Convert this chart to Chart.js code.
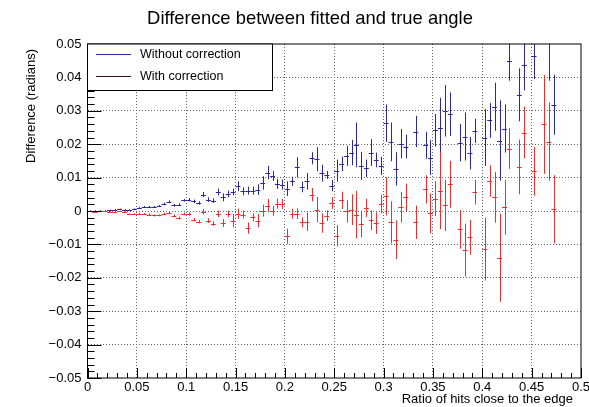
<!DOCTYPE html>
<html>
<head>
<meta charset="utf-8">
<script src="https://cdn.jsdelivr.net/npm/chart.js@4.4.0/dist/chart.umd.min.js"></script>
<style>
  html, body { margin: 0; padding: 0; background: #fff; }
  canvas { display: block; }
</style>
</head>
<body>
<canvas id="angleChart" width="589" height="407"></canvas>
<script>
// bin centres, bin width 0.005
const binCenters = [
  0.0025, 0.0075, 0.0125, 0.0175, 0.0225, 0.0275, 0.0325, 0.0375, 0.0425, 0.0475,
  0.0525, 0.0575, 0.0625, 0.0675, 0.0725, 0.0775, 0.0825, 0.0875, 0.0925, 0.0975,
  0.1025, 0.1075, 0.1125, 0.1175, 0.1225, 0.1275, 0.1325, 0.1375, 0.1425, 0.1475,
  0.1525, 0.1575, 0.1625, 0.1675, 0.1725, 0.1775, 0.1825, 0.1875, 0.1925, 0.1975,
  0.2025, 0.2075, 0.2125, 0.2175, 0.2225, 0.2275, 0.2325, 0.2375, 0.2425, 0.2475,
  0.2525, 0.2575, 0.2625, 0.2675, 0.2725, 0.2775, 0.2825, 0.2875, 0.2925, 0.2975,
  0.3025, 0.3075, 0.3125, 0.3175, 0.3225, 0.3275, 0.3325, 0.3375, 0.3425, 0.3475,
  0.3525, 0.3575, 0.3625, 0.3675, 0.3725, 0.3775, 0.3825, 0.3875, 0.3925, 0.3975,
  0.4025, 0.4075, 0.4125, 0.4175, 0.4225, 0.4275, 0.4325, 0.4375, 0.4425, 0.4475,
  0.4525, 0.4575, 0.4625, 0.4675, 0.4725
];
const binHalfWidth = 0.0025;

const withoutCorrection = [
  0.0000, 0.0000, 0.0001, 0.0001, 0.0002, 0.0004, 0.0005, 0.0004, 0.0003, 0.0006,
  0.0009, 0.0012, 0.0012, 0.0012, 0.0015, 0.0021, 0.0028, 0.0017, 0.0019, 0.0032,
  0.0034, 0.0029, 0.0024, 0.0049, 0.0034, 0.0031, 0.0057, 0.0041, 0.0051, 0.0057,
  0.0074, 0.0059, 0.0061, 0.0061, 0.0064, 0.0084, 0.0115, 0.0105, 0.0081, 0.0079,
  0.0067, 0.0089, 0.0131, 0.0072, 0.0089, 0.0158, 0.0155, 0.0113, 0.0108, 0.0076,
  0.0121, 0.0141, 0.0165, 0.0175, 0.0198, 0.0135, 0.0128, 0.0175, 0.0153, 0.0135,
  0.0263, 0.0207, 0.0126, 0.0202, 0.0193, null, 0.0238, null, 0.0197, 0.0160,
  0.0242, 0.0249, 0.0300, 0.0290, null, 0.0205, 0.0223, 0.0173, 0.0240, null,
  0.0220, 0.0271, 0.0312, 0.0211, 0.0247, 0.0450, null, 0.0348, 0.0438, null,
  0.0465, null, null, 0.0520, 0.0318
];
const withoutCorrectionErr = [
  0.0002, 0.0002, 0.0002, 0.0002, 0.0002, 0.0002, 0.0002, 0.0002, 0.0002, 0.0002,
  0.0003, 0.0003, 0.0003, 0.0003, 0.0003, 0.0004, 0.0004, 0.0004, 0.0004, 0.0004,
  0.0005, 0.0005, 0.0005, 0.0008, 0.0007, 0.0007, 0.0010, 0.0012, 0.0010, 0.0010,
  0.0015, 0.0012, 0.0012, 0.0012, 0.0016, 0.0020, 0.0020, 0.0015, 0.0015, 0.0015,
  0.0022, 0.0014, 0.0030, 0.0016, 0.0025, 0.0018, 0.0036, 0.0025, 0.0012, 0.0017,
  0.0033, 0.0022, 0.0030, 0.0038, 0.0067, 0.0042, 0.0026, 0.0040, 0.0022, 0.0027,
  0.0056, 0.0058, 0.0050, 0.0044, 0.0036, null, 0.0047, null, 0.0040, 0.0052,
  0.0049, 0.0090, 0.0077, 0.0065, null, 0.0056, 0.0072, 0.0049, 0.0036, null,
  0.0085, 0.0052, 0.0072, 0.0120, 0.0072, 0.0060, null, 0.0079, 0.0077, null,
  0.0070, null, null, 0.0130, 0.0090
];

const withCorrection = [
  -0.0001, -0.0002, 0.0000, -0.0001, -0.0003, -0.0003, -0.0001, -0.0003, -0.0009, -0.0009,
  -0.0009, -0.0009, -0.0011, -0.0013, -0.0013, -0.0009, -0.0005, -0.0014, -0.0021, -0.0009,
  -0.0009, -0.0026, -0.0032, -0.0002, -0.0029, -0.0038, -0.0008, -0.0036, -0.0009, -0.0029,
  -0.0008, -0.0011, -0.0051, -0.0019, -0.0029, 0.0001, 0.0016, 0.0001, 0.0022, 0.0021,
  -0.0076, -0.0008, -0.0008, -0.0034, -0.0032, 0.0049, 0.0004, -0.0036, -0.0014, 0.0024,
  -0.0074, 0.0032, -0.0001, 0.0004, -0.0011, -0.0039, 0.0009, -0.0028, -0.0036, 0.0021,
  0.0044, -0.0034, -0.0086, 0.0011, 0.0041, null, -0.0034, null, 0.0065, -0.0007,
  0.0037, 0.0061, 0.0017, 0.0080, null, -0.0055, -0.0117, -0.0079, 0.0056, null,
  -0.0114, 0.0090, 0.0041, -0.0140, 0.0011, 0.0187, null, 0.0132, 0.0235, null,
  0.0119, null, 0.0259, 0.0208, 0.0005
];
const withCorrectionErr = [
  0.0002, 0.0002, 0.0002, 0.0002, 0.0002, 0.0002, 0.0002, 0.0002, 0.0002, 0.0002,
  0.0003, 0.0003, 0.0003, 0.0003, 0.0003, 0.0004, 0.0004, 0.0004, 0.0004, 0.0004,
  0.0005, 0.0005, 0.0005, 0.0008, 0.0007, 0.0007, 0.0010, 0.0012, 0.0010, 0.0020,
  0.0015, 0.0012, 0.0017, 0.0012, 0.0020, 0.0018, 0.0020, 0.0015, 0.0015, 0.0015,
  0.0023, 0.0015, 0.0016, 0.0015, 0.0028, 0.0020, 0.0038, 0.0029, 0.0016, 0.0018,
  0.0032, 0.0026, 0.0034, 0.0046, 0.0071, 0.0040, 0.0027, 0.0030, 0.0032, 0.0028,
  0.0057, 0.0063, 0.0058, 0.0046, 0.0041, null, 0.0050, null, 0.0042, 0.0060,
  0.0052, 0.0115, 0.0077, 0.0070, null, 0.0058, 0.0079, 0.0052, 0.0037, null,
  0.0094, 0.0047, 0.0076, 0.0132, 0.0082, 0.0061, null, 0.0082, 0.0078, null,
  0.0073, null, 0.0148, 0.0117, 0.0102
];

const seriesLabels = ['Without correction', 'With correction'];
const blue = 'rgb(40,40,165)';
const red = 'rgb(240,45,45)';
const FONT = '"Liberation Sans", Arial, Helvetica, sans-serif';

function toPoints(vals, errs) {
  return binCenters
    .map((x, i) => ({x: x, y: vals[i], e: errs[i]}))
    .filter(p => p.y !== null && p.y !== undefined);
}

function fmt(v) {
  let s = String(Number(v.toFixed(3)));
  if (v < 0) s = '\u2212' + s.slice(1);
  return s;
}

// error bars: vertical = error, horizontal = bin width
const errorBars = {
  id: 'errorBars',
  afterDatasetsDraw(chart) {
    const {ctx, chartArea, scales} = chart;
    const xs = scales.x, ys = scales.y;
    ctx.save();
    ctx.beginPath();
    ctx.rect(chartArea.left, chartArea.top, chartArea.right - chartArea.left, chartArea.bottom - chartArea.top);
    ctx.clip();
    ctx.lineWidth = 1;
    chart.data.datasets.forEach(ds => {
      ctx.strokeStyle = ds.borderColor;
      ds.data.forEach(p => {
        const px = Math.round(xs.getPixelForValue(p.x)) + 0.5;
        const py = Math.round(ys.getPixelForValue(p.y)) + 0.5;
        ctx.beginPath();
        ctx.moveTo(xs.getPixelForValue(p.x - binHalfWidth), py);
        ctx.lineTo(xs.getPixelForValue(p.x + binHalfWidth), py);
        ctx.moveTo(px, ys.getPixelForValue(p.y + p.e));
        ctx.lineTo(px, ys.getPixelForValue(p.y - p.e));
        ctx.stroke();
      });
    });
    ctx.restore();
  }
};

// ROOT-like frame, inward ticks, legend, titles
const frameDeco = {
  id: 'frameDeco',
  afterDraw(chart) {
    const {ctx, chartArea} = chart;
    const xs = chart.scales.x, ys = chart.scales.y;
    const L = chartArea.left, R = chartArea.right, T = chartArea.top, B = chartArea.bottom;
    ctx.save();
    ctx.strokeStyle = '#000';
    ctx.lineWidth = 1;
    ctx.strokeRect(L, T, R - L, B - T);

    // y ticks, every 0.002, major every 0.01
    ctx.beginPath();
    for (let k = -25; k <= 25; k++) {
      const py = Math.round(ys.getPixelForValue(k * 0.002)) + 0.5;
      const len = (k % 5 === 0) ? 14 : 7;
      ctx.moveTo(L, py);
      ctx.lineTo(L + len, py);
    }
    // x ticks, every 0.01, major every 0.05
    for (let k = 0; k <= 50; k++) {
      const px = Math.round(xs.getPixelForValue(k * 0.01)) + 0.5;
      const len = (k % 5 === 0) ? 10 : 5;
      ctx.moveTo(px, B);
      ctx.lineTo(px, B - len);
    }
    ctx.stroke();

    // legend box
    const lx0 = L, ly0 = T, lx1 = 272.5, ly1 = 90.5;
    ctx.fillStyle = '#fff';
    ctx.fillRect(lx0, ly0, lx1 - lx0, ly1 - ly0);
    ctx.strokeRect(lx0, ly0, lx1 - lx0, ly1 - ly0);
    const entryY = [54.5, 76.5];
    const entryColor = [blue, '#3a1010'];
    ctx.font = '12.5px ' + FONT;
    ctx.textBaseline = 'middle';
    ctx.textAlign = 'left';
    seriesLabels.forEach((lab, i) => {
      ctx.strokeStyle = entryColor[i];
      ctx.beginPath();
      ctx.moveTo(96, entryY[i]);
      ctx.lineTo(131, entryY[i]);
      ctx.stroke();
      ctx.fillStyle = '#000';
      ctx.fillText(lab, 140, entryY[i]);
    });

    // title
    ctx.fillStyle = '#000';
    ctx.font = '18.4px ' + FONT;
    ctx.textAlign = 'center';
    ctx.fillText('Difference between fitted and true angle', 310, 18.5);

    // axis titles
    ctx.font = '13px ' + FONT;
    ctx.textAlign = 'right';
    ctx.fillText('Ratio of hits close to the edge', 573, 399);
    ctx.save();
    ctx.translate(31, 49);
    ctx.rotate(-Math.PI / 2);
    ctx.textAlign = 'right';
    ctx.fillText('Difference (radians)', 0, 0);
    ctx.restore();

    ctx.restore();
  }
};

new Chart(document.getElementById('angleChart'), {
  type: 'scatter',
  data: {
    datasets: [
      {
        label: seriesLabels[0],
        data: toPoints(withoutCorrection, withoutCorrectionErr),
        borderColor: blue,
        backgroundColor: blue,
        pointRadius: 0,
        showLine: false
      },
      {
        label: seriesLabels[1],
        data: toPoints(withCorrection, withCorrectionErr),
        borderColor: red,
        backgroundColor: red,
        pointRadius: 0,
        showLine: false
      }
    ]
  },
  options: {
    responsive: false,
    animation: false,
    events: [],
    layout: {padding: {top: 44, right: 8, left: 0, bottom: 0}},
    plugins: {
      legend: {display: false},
      title: {display: false},
      tooltip: {enabled: false}
    },
    scales: {
      x: {
        type: 'linear',
        min: 0,
        max: 0.5,
        afterFit(scale) {
          scale.height = 29;
          scale.paddingLeft = 0;
          scale.paddingRight = 0;
        },
        ticks: {
          stepSize: 0.05,
          padding: 2,
          maxRotation: 0,
          autoSkip: false,
          color: '#000',
          font: {family: FONT, size: 13},
          callback: v => fmt(v)
        },
        grid: {
          color: ctx => (ctx.tick && (Math.abs(ctx.tick.value) < 1e-9 || Math.abs(ctx.tick.value - 0.5) < 1e-9)) ? 'rgba(0,0,0,0)' : '#666',
          lineWidth: 1,
          drawTicks: false
        },
        border: {display: false, dash: [1, 2]}
      },
      y: {
        type: 'linear',
        min: -0.05,
        max: 0.05,
        afterFit(scale) {
          scale.width = 87.5;
          scale.paddingTop = 0;
          scale.paddingBottom = 0;
        },
        ticks: {
          stepSize: 0.01,
          padding: 6,
          color: '#000',
          font: {family: FONT, size: 13},
          callback: v => fmt(v)
        },
        grid: {
          color: ctx => (ctx.tick && Math.abs(Math.abs(ctx.tick.value) - 0.05) < 1e-9) ? 'rgba(0,0,0,0)' : '#666',
          lineWidth: 1,
          drawTicks: false
        },
        border: {display: false, dash: [1, 2]}
      }
    }
  },
  plugins: [errorBars, frameDeco]
});
</script>
</body>
</html>
